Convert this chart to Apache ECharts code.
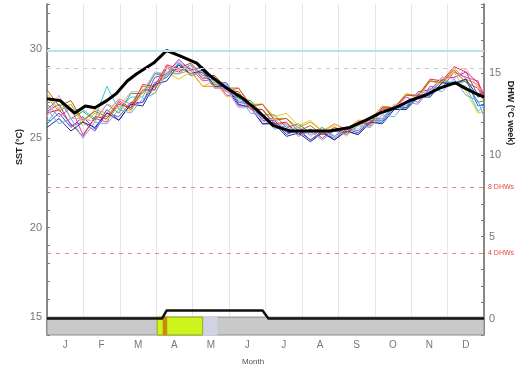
<!DOCTYPE html>
<html>
<head>
<meta charset="utf-8">
<script src="https://cdn.jsdelivr.net/npm/echarts@6/dist/echarts.min.js"></script>
<style>
html, body { margin: 0; padding: 0; background: #fff; }
#sst_chart { width: 524px; height: 372px; }
</style>
</head>
<body>
<div id="sst_chart"></div>
<script>
// month labels on the x axis
const months = ['J', 'F', 'M', 'A', 'M', 'J', 'J', 'A', 'S', 'O', 'N', 'D'];

// day of year of each sample of the past years
const sampleDays = [0, 10, 20, 30, 40, 50, 60, 70, 80, 90, 100, 110, 120, 130, 140, 150, 160, 170, 180, 190,
  200, 210, 220, 230, 240, 250, 260, 270, 280, 290, 300, 310, 320, 330, 340, 350, 360, 365];

// SST of past years (°C)
const year01 = [25.8,26.4,25.6,26.2,25.5,26.6,26.0,26.9,27.0,28.1,28.4,29.2,28.6,28.7,27.8,27.8,26.8,26.8,25.8,25.9,25.2,25.5,24.9,25.4,24.9,25.4,25.2,25.9,25.9,26.7,26.7,27.4,27.4,28.1,28.1,28.3,26.8,26.9];
const year02 = [27.3,26.5,26.9,25.9,26.6,26.4,27.2,26.9,27.9,27.8,28.7,28.6,28.8,27.9,27.9,27.6,27.8,26.9,26.9,26.1,26.1,25.6,25.9,25.4,25.8,25.5,26.0,26.0,26.8,26.7,27.5,27.3,28.2,28.1,28.9,28.3,28.0,27.1];
const year03 = [26.5,26.9,25.7,25.9,25.4,26.4,26.2,27.0,27.0,28.4,28.6,29.4,28.8,29.0,28.1,28.1,27.0,26.9,26.0,26.0,25.3,25.4,24.9,25.3,25.0,25.5,25.3,26.0,26.0,26.8,26.7,27.6,27.7,28.4,28.4,28.7,27.4,27.6];
const year04 = [26.9,26.2,26.7,25.2,26.1,25.9,27.1,26.7,27.7,27.7,29.0,28.8,28.9,28.2,28.3,27.4,27.3,26.7,26.6,25.8,25.8,25.2,25.5,25.2,25.4,25.3,25.9,25.7,26.6,26.6,27.3,27.0,27.9,27.8,28.7,28.4,28.2,27.2];
const year05 = [26.6,27.2,26.1,26.5,26.0,26.9,26.4,27.5,27.5,28.6,28.6,29.1,28.5,28.7,28.0,27.9,27.2,27.1,26.3,26.3,25.6,25.8,25.3,25.6,25.1,25.6,25.4,26.1,26.1,26.8,26.6,27.4,27.5,28.3,28.0,28.2,27.0,27.1];
const year06 = [25.9,26.7,26.6,26.6,26.1,27.9,26.6,27.3,27.3,28.6,28.5,29.2,28.9,28.9,28.1,28.0,27.1,26.9,26.1,26.1,25.4,25.6,25.2,25.4,25.1,25.6,25.4,26.1,26.0,26.8,26.8,27.5,27.6,28.2,28.1,27.9,26.5,26.8];
const year07 = [27.5,26.6,26.9,25.7,26.4,26.0,26.8,26.5,27.6,27.5,28.7,28.3,28.7,27.9,28.2,27.3,27.5,26.7,26.9,26.2,26.4,25.7,26.0,25.4,25.7,25.1,25.8,25.6,26.7,26.6,27.5,27.2,28.2,28.0,28.7,27.6,26.4,26.5];
const year08 = [26.4,26.6,25.8,25.1,26.2,26.1,26.9,26.7,28.0,27.9,29.1,28.9,29.2,28.5,28.5,27.7,27.6,26.6,26.6,25.8,25.9,25.2,25.5,25.0,25.5,25.2,25.9,25.8,26.7,26.7,27.4,27.4,28.3,28.2,29.0,28.7,28.1,27.4];
const year09 = [25.6,26.1,25.4,25.9,25.6,26.4,26.0,26.9,26.8,28.0,28.2,29.1,28.6,28.8,27.9,27.9,26.9,26.7,25.8,25.8,25.1,25.3,24.8,25.3,24.9,25.4,25.2,25.9,25.8,26.6,26.6,27.3,27.3,28.1,28.0,28.3,27.3,27.4];
const year10 = [27.7,26.8,27.1,26.0,26.5,26.2,27.0,26.6,27.7,27.7,28.9,28.7,29.1,28.3,28.5,27.8,27.8,26.8,26.9,26.0,26.1,25.4,25.7,25.2,25.6,25.3,25.9,25.8,26.7,26.7,27.4,27.4,28.2,28.1,28.8,28.1,27.8,27.1];
const year11 = [26.2,27.4,26.1,26.1,25.9,26.9,26.7,27.6,27.6,28.7,28.6,29.3,28.6,28.6,27.8,27.7,26.7,26.7,25.9,26.1,25.4,25.7,25.1,25.5,25.0,25.6,25.5,26.2,26.1,26.9,26.9,27.5,27.6,28.4,28.3,28.9,27.8,27.7];
const year12 = [26.6,25.8,26.1,25.0,25.9,25.8,26.6,26.4,27.2,27.5,28.6,28.6,29.1,28.4,28.4,27.6,27.4,26.4,26.3,25.5,25.7,25.1,25.4,24.9,25.4,25.2,25.7,25.6,26.3,26.2,27.0,26.9,27.8,27.6,28.3,27.4,27.1,26.2];

// current year SST (thick black)
const currentDays = [0, 11, 23, 32, 40, 50, 58, 67, 75, 89, 100, 111, 125, 136, 150, 164, 175, 189, 203, 220,
  236, 253, 266, 278, 291, 303, 316, 328, 341, 349, 358, 365];
const currentSst = [27.2,27.1,26.4,26.8,26.7,27.1,27.5,28.2,28.6,29.2,29.9,29.6,29.2,28.5,27.8,27.2,26.6,25.7,25.4,25.4,
  25.4,25.6,26.0,26.4,26.7,27.1,27.4,27.8,28.1,27.8,27.5,27.3];

// current year DHW (°C week)
const dhwDays = [0, 96, 100, 180, 185, 365];
const dhwValues = [0, 0, 0.5, 0.5, 0, 0];

// reference levels
const mmm = 28.9;
const bleachThreshold = 29.9;
const dhwLevels = [4, 8];

// alert periods in the bottom strip (day of year)
const alertLevel = ['outlook', 'watch', 'warning'];
const alertStart = [130, 92, 97];
const alertEnd = [142, 130, 100];

const pastYears = [year01, year02, year03, year04, year05, year06, year07, year08, year09, year10, year11, year12];
const yearColors = ['#2f4cf0', '#f08a1c', '#8a3cc8', '#e23cc0', '#2ea84a', '#36c6d6',
  '#e6c81e', '#e0302c', '#1c2c8c', '#a8642c', '#f59ac8', '#6aa8f0'];
const alertColors = { outlook: '#d2d2e6', watch: '#ccf51e', warning: '#d0860c' };

const myChart = echarts.init(document.getElementById('sst_chart'));

const pair = (days, vals) => vals.map((v, i) => [days[i], v]);

const series = pastYears.map((vals, i) => ({
  type: 'line',
  xAxisIndex: 1,
  yAxisIndex: 0,
  data: pair(sampleDays, vals),
  symbol: 'none',
  silent: true,
  lineStyle: { color: yearColors[i], width: 1 },
  z: 2
}));

series.push({
  type: 'line',
  xAxisIndex: 1,
  yAxisIndex: 0,
  data: pair(currentDays, currentSst),
  symbol: 'none',
  silent: true,
  lineStyle: { color: '#000', width: 3 },
  z: 4,
  markLine: {
    silent: true,
    symbol: 'none',
    label: { show: false },
    data: [
      { yAxis: bleachThreshold, lineStyle: { color: '#b8e2ee', width: 2, type: 'solid' } },
      { yAxis: mmm, lineStyle: { color: '#cccccc', width: 1, type: [4, 5] } }
    ]
  },
  markArea: {
    silent: true,
    data: [
      [{ xAxis: 0, yAxis: 14, itemStyle: { color: '#c9c9c9', borderColor: '#8c8c8c', borderWidth: 1 } },
       { xAxis: 365, yAxis: 15 }]
    ].concat(alertLevel.map((lv, i) => [
      { xAxis: alertStart[i], yAxis: 14,
        itemStyle: { color: alertColors[lv], borderColor: lv === 'watch' ? '#9aa818' : alertColors[lv], borderWidth: 1 } },
      { xAxis: alertEnd[i], yAxis: 15 }
    ]))
  }
});

series.push({
  type: 'line',
  xAxisIndex: 1,
  yAxisIndex: 1,
  data: pair(dhwDays, dhwValues),
  symbol: 'none',
  silent: true,
  lineStyle: { color: '#111', width: 2.5, join: 'round' },
  z: 6,
  markLine: {
    silent: true,
    symbol: 'none',
    data: dhwLevels.map(v => ({
      yAxis: v,
      lineStyle: { color: '#e38686', width: 1, type: [4, 5] },
      label: { show: true, position: 'end', formatter: v + ' DHWs', color: '#e04848', fontSize: 7, distance: 4 }
    }))
  }
});

const option = {
  animation: false,
  textStyle: { fontFamily: 'Liberation Sans' },
  grid: { left: 47, right: 40, top: 4, bottom: 37 },
  xAxis: [
    {
      type: 'category',
      data: months,
      boundaryGap: true,
      axisLine: { show: false },
      axisTick: { show: false },
      axisLabel: { color: '#777', fontSize: 10, margin: 5 },
      splitLine: { show: true, lineStyle: { color: '#e6e6e6', width: 1 } }
    },
    {
      type: 'value',
      min: 0,
      max: 365,
      show: false
    }
  ],
  yAxis: [
    {
      type: 'value',
      position: 'left',
      min: 14,
      max: 32.5,
      interval: 1,
      axisLine: { show: true, lineStyle: { color: '#666', width: 1.5 } },
      axisTick: { show: true, inside: true, length: 3, lineStyle: { color: '#777' } },
      axisLabel: {
        color: '#777',
        fontSize: 11,
        margin: 5,
        formatter: v => (v % 5 === 0 ? v : '')
      },
      splitLine: { show: false }
    },
    {
      type: 'value',
      position: 'right',
      min: -1,
      max: 19.2,
      interval: 1,
      axisLine: { show: true, lineStyle: { color: '#666', width: 1.5 } },
      axisTick: { show: true, inside: true, length: 3, lineStyle: { color: '#777' } },
      axisLabel: {
        color: '#777',
        fontSize: 11,
        margin: 5,
        formatter: v => (v >= 0 && v % 5 === 0 ? v : '')
      },
      splitLine: { show: false }
    }
  ],
  graphic: [
    {
      type: 'text', x: 20, y: 147, rotation: Math.PI / 2,
      style: { text: 'SST (°C)', fill: '#222', font: 'bold 9px Liberation Sans', align: 'center', verticalAlign: 'middle' }
    },
    {
      type: 'text', x: 510, y: 113, rotation: -Math.PI / 2,
      style: { text: 'DHW (°C week)', fill: '#222', font: 'bold 9px Liberation Sans', align: 'center', verticalAlign: 'middle' }
    },
    {
      type: 'text', x: 253, y: 362,
      style: { text: 'Month', fill: '#555', font: '8px Liberation Sans', align: 'center', verticalAlign: 'middle' }
    }
  ],
  series: series
};

myChart.setOption(option);
window.onresize = myChart.resize;
</script>
</body>
</html>
